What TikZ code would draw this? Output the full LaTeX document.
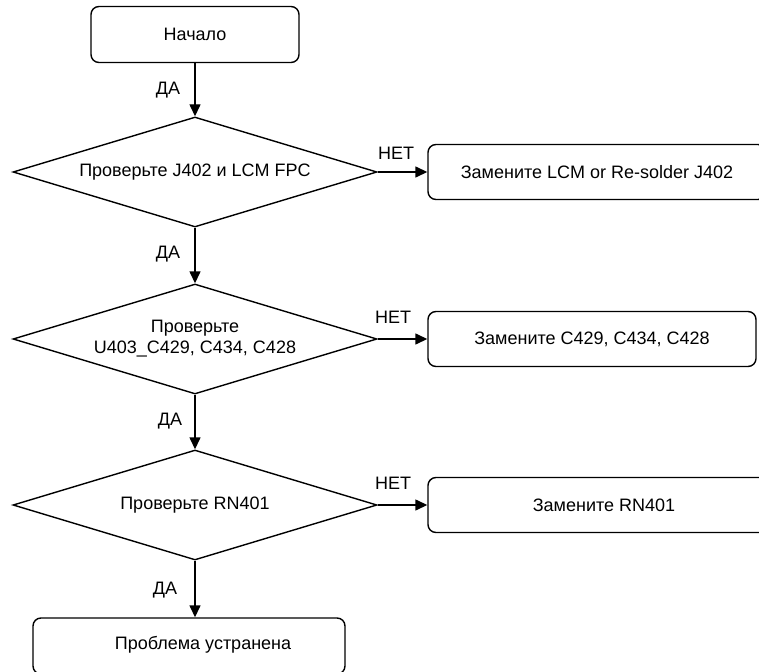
\documentclass[tikz,border=0pt]{standalone}
\usepackage{fontspec}
\setmainfont{Liberation Sans}
\usetikzlibrary{arrows.meta,shapes.geometric}
\begin{document}
\begin{tikzpicture}[x=1pt,y=-1pt,
  every node/.style={font=\fontsize{18}{21}\selectfont},
  box/.style={draw, line width=1.4pt, rounded corners=8pt, inner sep=0pt},
  dia/.style={draw, line width=1.4pt, diamond, aspect=3.3, inner sep=0pt,
    minimum width=364pt, minimum height=110pt, align=center},
  arr/.style={line width=1.4pt, -{Triangle[width=11pt,length=12pt]}},
  lbl/.style={inner sep=0pt}
]
\useasboundingbox (0,0) rectangle (759,671);
\clip (0,0) rectangle (759,671);

\node[box, minimum width=208pt, minimum height=56pt] (start) at (195,34.5) {Начало};

\node[dia] (d1) at (195,172) {Проверьте J402 и LCM FPC};
\node[dia] (d2) at (195,339) {Проверьте\\U403\_C429, C434, C428};
\node[dia] (d3) at (195,505) {Проверьте RN401};

\node[box, minimum width=338pt, minimum height=55pt] (r1) at (597,172) {Замените LCM or Re-solder J402};
\node[box, minimum width=328pt, minimum height=55pt] (r2) at (592,339) {Замените C429, C434, C428};
\node[box, minimum width=352pt, minimum height=55pt] (r3) at (604,505) {Замените RN401};

\node[box, minimum width=312pt, minimum height=56pt] (end) at (189,646) {};
\node[lbl] (endt) at (203,645) {Проблема устранена};

\draw[arr] (start.south) -- (d1.north);
\draw[arr] (d1.south) -- (d2.north);
\draw[arr] (d2.south) -- (d3.north);
\draw[arr] (d3.south) -- (d3.south |- end.north);

\draw[arr] (d1.east) -- (r1.west);
\draw[arr] (d2.east) -- (r2.west);
\draw[arr] (d3.east) -- (r3.west);

\node[lbl] (y1) at (168,90) {ДА};
\node[lbl] (y2) at (168,254) {ДА};
\node[lbl] (y3) at (170,421) {ДА};
\node[lbl] (y4) at (165,590) {ДА};

\node[lbl] (n1) at (396,153) {НЕТ};
\node[lbl] (n2) at (393,317) {НЕТ};
\node[lbl] (n3) at (393,483) {НЕТ};
\end{tikzpicture}
\end{document}
